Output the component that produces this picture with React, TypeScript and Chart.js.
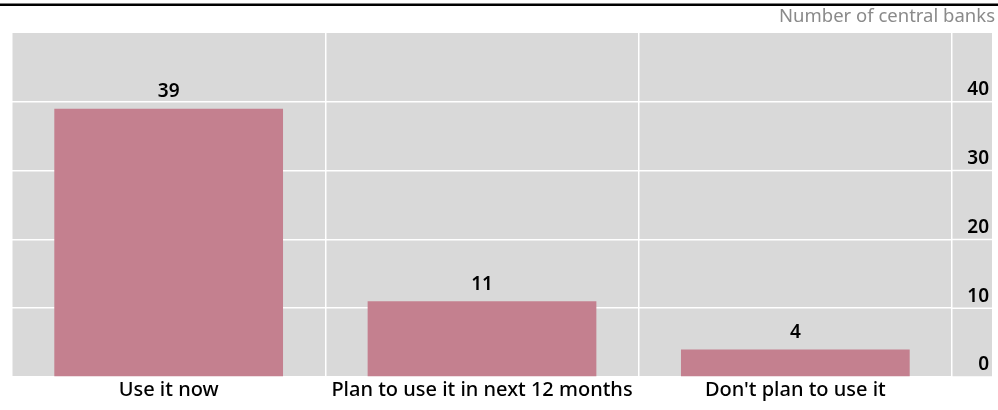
import React, { useEffect, useRef } from "react";
import { Chart, registerables } from "chart.js";

Chart.register(...registerables);

const categories = ["Use it now", "Plan to use it in next 12 months", "Don't plan to use it"];
const values = [39, 11, 4];
const yTicks = [0, 10, 20, 30, 40, 50];
const unitLabel = "Number of central banks";

const FONT = "'Noto Sans', 'Open Sans', sans-serif";
const BAR = "#c4808f";
const PANEL = "#d9d9d9";

export default function App() {
  const ref = useRef<HTMLCanvasElement | null>(null);

  useEffect(() => {
    const canvas = ref.current;
    if (!canvas) return;

    const bgPlugin = {
      id: "bg",
      beforeDraw(chart: any) {
        const { ctx, chartArea } = chart;
        const y = chart.scales.y;
        const panelRight = y.right - 3;
        ctx.save();
        ctx.fillStyle = PANEL;
        ctx.fillRect(chartArea.left, chartArea.top, panelRight - chartArea.left, chartArea.bottom - chartArea.top);
        // extend horizontal gridlines under the axis labels
        ctx.strokeStyle = "#ffffff";
        ctx.lineWidth = 1.5;
        y.ticks.forEach((t: any) => {
          if (t.value >= y.max) return;
          const py = y.getPixelForValue(t.value);
          ctx.beginPath();
          ctx.moveTo(chartArea.right, py);
          ctx.lineTo(panelRight, py);
          ctx.stroke();
        });
        ctx.fillStyle = "#000";
        ctx.fillRect(0, 3.5, chart.width, 2.5);
        ctx.restore();
      },
    };

    const labelPlugin = {
      id: "vals",
      afterDatasetsDraw(chart: any) {
        const { ctx } = chart;
        const meta = chart.getDatasetMeta(0);
        ctx.save();
        ctx.font = `600 19px ${FONT}`;
        ctx.fillStyle = "#000";
        ctx.textAlign = "center";
        ctx.textBaseline = "middle";
        meta.data.forEach((el: any, i: number) => {
          ctx.fillText(String(values[i]), el.x, el.y - 17);
        });
        ctx.restore();
      },
    };

    const chart = new Chart(canvas, {
      type: "bar",
      data: {
        labels: categories,
        datasets: [
          {
            data: values,
            backgroundColor: BAR,
            borderWidth: 0,
            categoryPercentage: 1,
            barPercentage: 0.73,
          },
        ],
      },
      options: {
        responsive: false,
        animation: false,
        layout: { padding: { left: 12, right: 3, top: 6, bottom: 0 } },
        plugins: {
          legend: { display: false },
          tooltip: { enabled: false },
          title: {
            display: true,
            text: unitLabel,
            align: "end",
            color: "#8a8a8a",
            font: { family: FONT, size: 18.5, weight: "normal", lineHeight: 1.2 },
            padding: { top: 0, bottom: 4.8 },
          },
        },
        scales: {
          x: {
            offset: true,
            grid: { color: "#ffffff", lineWidth: 1.5, drawTicks: false, offset: true },
            border: { display: false },
            ticks: {
              color: "#000",
              font: { family: FONT, size: 20, weight: "500" },
              padding: 1,
              maxRotation: 0,
              autoSkip: false,
            },
            afterFit(scale: any) {
              scale.height = 33;
            },
          },
          y: {
            position: "right",
            min: 0,
            max: 50,
            afterBuildTicks(scale: any) {
              scale.ticks = yTicks.map((v) => ({ value: v }));
            },
            grid: {
              color: (c: any) => (c.tick && c.tick.value === 50 ? "rgba(0,0,0,0)" : "#ffffff"),
              lineWidth: 1.5,
              drawTicks: false,
            },
            border: { display: false },
            ticks: {
              color: "#000",
              font: { family: FONT, size: 19, weight: "600" },
              mirror: true,
              crossAlign: "near",
              padding: 37,
              labelOffset: -12,
              callback: (v: any) => (v === 50 ? "" : String(v)),
            },
            afterFit(scale: any) {
              scale.width = 43;
              scale.paddingTop = 0;
              scale.paddingBottom = 0;
            },
          },
        },
      },
      plugins: [bgPlugin, labelPlugin],
    } as any);

    return () => chart.destroy();
  }, []);

  return (
    <div style={{ position: "absolute", left: 0, top: 0, width: 998, height: 410 }}>
      <canvas ref={ref} width={998} height={410} style={{ display: "block" }} />
    </div>
  );
}
